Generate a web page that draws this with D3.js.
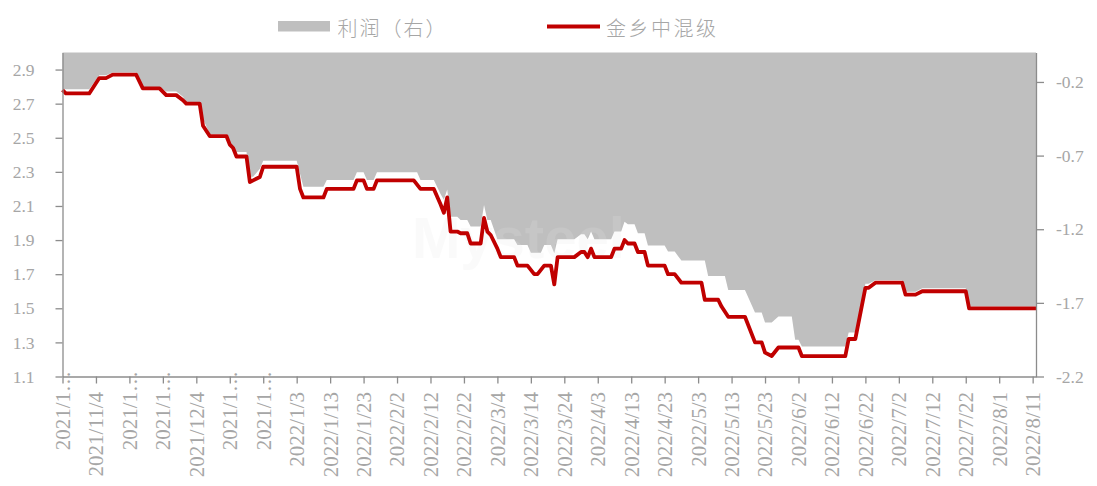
<!DOCTYPE html>
<html>
<head>
<meta charset="utf-8">
<script src="https://cdn.jsdelivr.net/npm/d3@7"></script>
<style>
  html, body { margin: 0; padding: 0; background: #fff; }
  svg { display: block; }
</style>
</head>
<body>
<svg id="chart" width="1097" height="486"></svg>
<script>
// x axis: one label every 10 days
const xTickLabels = ["2021/10/25", "2021/11/4", "2021/11/14", "2021/11/24", "2021/12/4", "2021/12/14", "2021/12/24",
  "2022/1/3", "2022/1/13", "2022/1/23", "2022/2/2", "2022/2/12", "2022/2/22", "2022/3/4", "2022/3/14", "2022/3/24",
  "2022/4/3", "2022/4/13", "2022/4/23", "2022/5/3", "2022/5/13", "2022/5/23", "2022/6/2", "2022/6/12", "2022/6/22",
  "2022/7/2", "2022/7/12", "2022/7/22", "2022/8/1", "2022/8/11"];
const xDomain = ["2021-10-25", "2022-08-12"];
const leftTicks = [1.1, 1.3, 1.5, 1.7, 1.9, 2.1, 2.3, 2.5, 2.7, 2.9];
const leftDomain = [1.1, 3.0];
const rightTicks = [-2.2, -1.7, -1.2, -0.7, -0.2];
const rightDomain = [-2.2, 0];

// 利润（右）
const profitSeries = [
  ["2021-10-25", -0.25], ["2021-11-02", -0.25], ["2021-11-05", -0.155], ["2021-11-07", -0.155], ["2021-11-09", -0.135],
  ["2021-11-16", -0.135], ["2021-11-18", -0.235], ["2021-11-23", -0.235], ["2021-11-25", -0.265], ["2021-11-28", -0.265],
  ["2021-11-30", -0.30], ["2021-12-01", -0.34], ["2021-12-05", -0.34], ["2021-12-06", -0.45], ["2021-12-08", -0.555],
  ["2021-12-13", -0.555], ["2021-12-14", -0.60], ["2021-12-15", -0.675], ["2021-12-19", -0.675], ["2021-12-20", -0.843],
  ["2021-12-21", -0.843], ["2021-12-23", -0.79], ["2021-12-24", -0.735], ["2022-01-03", -0.735], ["2022-01-05", -0.911],
  ["2022-01-11", -0.911], ["2022-01-12", -0.866], ["2022-01-20", -0.866], ["2022-01-21", -0.813], ["2022-01-23", -0.813],
  ["2022-01-24", -0.866], ["2022-01-26", -0.866], ["2022-01-27", -0.813], ["2022-02-08", -0.813], ["2022-02-09", -0.866],
  ["2022-02-13", -0.866], ["2022-02-15", -0.96], ["2022-02-16", -1.0], ["2022-02-17", -0.93], ["2022-02-18", -1.115],
  ["2022-02-20", -1.115], ["2022-02-21", -1.137], ["2022-02-23", -1.137], ["2022-02-24", -1.182], ["2022-02-27", -1.182],
  ["2022-02-28", -1.035], ["2022-03-01", -1.137], ["2022-03-02", -1.137], ["2022-03-04", -1.268], ["2022-03-09", -1.268],
  ["2022-03-10", -1.307], ["2022-03-13", -1.307], ["2022-03-14", -1.359], ["2022-03-17", -1.359], ["2022-03-18", -1.307],
  ["2022-03-20", -1.307], ["2022-03-21", -1.363], ["2022-03-22", -1.268], ["2022-03-27", -1.268], ["2022-03-29", -1.234],
  ["2022-03-30", -1.234], ["2022-03-31", -1.268], ["2022-04-01", -1.216], ["2022-04-02", -1.268], ["2022-04-07", -1.268],
  ["2022-04-08", -1.216], ["2022-04-10", -1.216], ["2022-04-11", -1.15], ["2022-04-12", -1.166], ["2022-04-14", -1.166],
  ["2022-04-15", -1.227], ["2022-04-17", -1.227], ["2022-04-18", -1.311], ["2022-04-23", -1.311], ["2022-04-24", -1.352],
  ["2022-04-26", -1.352], ["2022-04-28", -1.413], ["2022-05-05", -1.413], ["2022-05-06", -1.517], ["2022-05-11", -1.517],
  ["2022-05-12", -1.612], ["2022-05-17", -1.612], ["2022-05-20", -1.766], ["2022-05-22", -1.766], ["2022-05-23", -1.834],
  ["2022-05-25", -1.834], ["2022-05-27", -1.793], ["2022-05-31", -1.793], ["2022-06-01", -1.951], ["2022-06-02", -1.951],
  ["2022-06-03", -1.996], ["2022-06-16", -1.996], ["2022-06-17", -1.901], ["2022-06-19", -1.901], ["2022-06-22", -1.57],
  ["2022-06-23", -1.57], ["2022-06-25", -1.547], ["2022-07-03", -1.547], ["2022-07-04", -1.625], ["2022-07-07", -1.625],
  ["2022-07-09", -1.60], ["2022-07-22", -1.60], ["2022-07-23", -1.725], ["2022-08-12", -1.725]
];

// 金乡中混级
const priceSeries = [
  ["2021-10-25", 2.78], ["2021-10-26", 2.76], ["2021-11-02", 2.76], ["2021-11-05", 2.85], ["2021-11-07", 2.85],
  ["2021-11-09", 2.87], ["2021-11-16", 2.87], ["2021-11-18", 2.79], ["2021-11-23", 2.79], ["2021-11-25", 2.75],
  ["2021-11-28", 2.75], ["2021-11-30", 2.72], ["2021-12-01", 2.70], ["2021-12-05", 2.70], ["2021-12-06", 2.57],
  ["2021-12-08", 2.51], ["2021-12-13", 2.51], ["2021-12-14", 2.46], ["2021-12-15", 2.44], ["2021-12-16", 2.39],
  ["2021-12-19", 2.39], ["2021-12-20", 2.24], ["2021-12-21", 2.25], ["2021-12-23", 2.27], ["2021-12-24", 2.33],
  ["2022-01-03", 2.33], ["2022-01-04", 2.20], ["2022-01-05", 2.15], ["2022-01-11", 2.15], ["2022-01-12", 2.20],
  ["2022-01-20", 2.20], ["2022-01-21", 2.25], ["2022-01-23", 2.25], ["2022-01-24", 2.20], ["2022-01-26", 2.20],
  ["2022-01-27", 2.25], ["2022-02-07", 2.25], ["2022-02-09", 2.20], ["2022-02-13", 2.20], ["2022-02-15", 2.11],
  ["2022-02-16", 2.06], ["2022-02-17", 2.15], ["2022-02-18", 1.95], ["2022-02-20", 1.95], ["2022-02-21", 1.94],
  ["2022-02-23", 1.94], ["2022-02-24", 1.88], ["2022-02-27", 1.88], ["2022-02-28", 2.03], ["2022-03-01", 1.95],
  ["2022-03-02", 1.93], ["2022-03-04", 1.85], ["2022-03-05", 1.80], ["2022-03-09", 1.80], ["2022-03-10", 1.75],
  ["2022-03-13", 1.75], ["2022-03-15", 1.70], ["2022-03-16", 1.70], ["2022-03-18", 1.75], ["2022-03-20", 1.75],
  ["2022-03-21", 1.64], ["2022-03-22", 1.80], ["2022-03-27", 1.80], ["2022-03-29", 1.83], ["2022-03-30", 1.83],
  ["2022-03-31", 1.80], ["2022-04-01", 1.85], ["2022-04-02", 1.80], ["2022-04-07", 1.80], ["2022-04-08", 1.85],
  ["2022-04-10", 1.85], ["2022-04-11", 1.90], ["2022-04-12", 1.88], ["2022-04-14", 1.88], ["2022-04-15", 1.83],
  ["2022-04-17", 1.83], ["2022-04-18", 1.75], ["2022-04-23", 1.75], ["2022-04-24", 1.70], ["2022-04-26", 1.70],
  ["2022-04-28", 1.65], ["2022-05-04", 1.65], ["2022-05-05", 1.55], ["2022-05-09", 1.55], ["2022-05-10", 1.51],
  ["2022-05-12", 1.45], ["2022-05-17", 1.45], ["2022-05-20", 1.30], ["2022-05-22", 1.30], ["2022-05-23", 1.24],
  ["2022-05-25", 1.22], ["2022-05-27", 1.27], ["2022-06-02", 1.27], ["2022-06-03", 1.22], ["2022-06-16", 1.22],
  ["2022-06-17", 1.32], ["2022-06-19", 1.32], ["2022-06-22", 1.62], ["2022-06-23", 1.62], ["2022-06-25", 1.65],
  ["2022-07-03", 1.65], ["2022-07-04", 1.58], ["2022-07-07", 1.58], ["2022-07-09", 1.60], ["2022-07-22", 1.60],
  ["2022-07-23", 1.50], ["2022-08-12", 1.50]
];

const legendLabels = ["利润（右）", "金乡中混级"];

(() => {
  const parseDay = d3.timeParse("%Y-%m-%d");
  const parseTick = d3.timeParse("%Y/%m/%d");
  const profit = profitSeries.map(([d, v]) => ({ date: parseDay(d), value: v }));
  const price = priceSeries.map(([d, v]) => ({ date: parseDay(d), value: v }));
  const tickDates = xTickLabels.map(parseTick);

  const grey = "#bfbfbf";
  const red = "#c00000";
  const textGrey = "#a6a6a6";
  const axisGrey = "#8c8c8c";
  const serif = "'Liberation Serif', 'Times New Roman', serif";
  const cjk = "'Noto Sans CJK SC', sans-serif";

  const plot = { left: 62.5, right: 1036, top: 52.5, bottom: 376.5 };

  const x = d3.scaleTime().domain(xDomain.map(parseDay)).range([plot.left, plot.right]);
  const yL = d3.scaleLinear().domain(leftDomain).range([plot.bottom, plot.top]);
  const yR = d3.scaleLinear().domain(rightDomain).range([plot.bottom, plot.top]);

  const svg = d3.select("#chart");

  // profit area hangs down from zero on the right axis
  svg.append("path")
    .datum(profit)
    .attr("fill", grey)
    .attr("d", d3.area().x((d) => x(d.date)).y0(yR(0)).y1((d) => yR(d.value)));

  // very faint watermark
  svg.append("text")
    .attr("x", 412).attr("y", 258)
    .attr("font-family", "Arial, 'Liberation Sans', sans-serif")
    .attr("font-weight", "bold").attr("font-size", 58)
    .attr("fill", "#e6e6e6").attr("opacity", 0.18)
    .text("Mysteel");

  svg.append("path")
    .datum(price)
    .attr("fill", "none")
    .attr("stroke", red)
    .attr("stroke-width", 3.8)
    .attr("stroke-linejoin", "round")
    .attr("d", d3.line().x((d) => x(d.date)).y((d) => yL(d.value)));

  const styleAxis = (g, size) => {
    g.select(".domain").attr("stroke", axisGrey).attr("stroke-width", 1.3);
    g.selectAll(".tick line").attr("stroke", axisGrey).attr("stroke-width", 1.3);
    g.selectAll(".tick text").attr("fill", textGrey).attr("font-family", serif).attr("font-size", size);
  };

  const fmt = (d) => d.toFixed(1);

  svg.append("g")
    .attr("transform", `translate(${plot.left},0)`)
    .call(d3.axisLeft(yL).tickValues(leftTicks).tickFormat(fmt).tickSize(7).tickSizeOuter(0).tickPadding(21))
    .call((g) => styleAxis(g, 17.5));

  svg.append("g")
    .attr("transform", `translate(${plot.right},0)`)
    .call(d3.axisRight(yR).tickValues(rightTicks).tickFormat(fmt).tickSize(8).tickSizeOuter(0).tickPadding(12))
    .call((g) => styleAxis(g, 17.5));

  // long labels get clipped the way the original does ("2021/1…")
  const shortLabel = (s) => (s.length > 9 ? s.slice(0, 6) + "…" : s);
  const labelByTime = new Map(tickDates.map((d, i) => [+d, xTickLabels[i]]));

  const xAxis = svg.append("g")
    .attr("transform", `translate(0,${plot.bottom})`)
    .call(d3.axisBottom(x).tickValues(tickDates).tickFormat((d) => shortLabel(labelByTime.get(+d))).tickSize(7).tickSizeOuter(0))
    .call((g) => styleAxis(g, 21));

  const ellipsis = svg.append("text").attr("font-family", serif).attr("font-size", 21).text("…");
  const ellipsisWidth = ellipsis.node().getComputedTextLength();
  ellipsis.remove();

  xAxis.selectAll(".tick text")
    .attr("transform", "rotate(-90)")
    .attr("text-anchor", "end")
    .attr("y", 0)
    .attr("dy", "0.33em")
    .attr("x", (d) => -15.5 + (labelByTime.get(+d).length > 9 ? ellipsisWidth : 0));

  // legend
  const legend = svg.append("g");
  legend.append("rect").attr("x", 278).attr("y", 21).attr("width", 52).attr("height", 10.5).attr("fill", grey);
  legend.append("text").attr("x", 337.5).attr("y", 27.3).attr("dominant-baseline", "central")
    .attr("font-family", cjk).attr("font-size", 20).attr("font-weight", 300).attr("letter-spacing", 2).attr("fill", textGrey)
    .text(legendLabels[0]);
  legend.append("line").attr("x1", 547).attr("x2", 600).attr("y1", 26.5).attr("y2", 26.5)
    .attr("stroke", red).attr("stroke-width", 4);
  legend.append("text").attr("x", 606).attr("y", 27.3).attr("dominant-baseline", "central")
    .attr("font-family", cjk).attr("font-size", 20).attr("font-weight", 300).attr("letter-spacing", 2.5).attr("fill", textGrey)
    .text(legendLabels[1]);
})();
</script>
</body>
</html>
